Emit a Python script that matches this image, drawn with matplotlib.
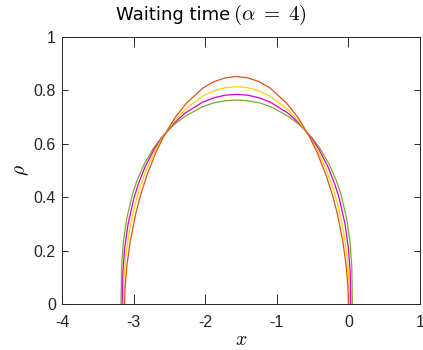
import numpy as np
import matplotlib
matplotlib.use('Agg')
import matplotlib.pyplot as plt

plt.rcParams['mathtext.fontset'] = 'cm'
plt.rcParams['font.family'] = ['DejaVu Sans']

# densities, one (x, rho) set per curve
x_red = [-3.126, -3.118, -3.095, -3.048, -2.970, -2.907, -2.813, -2.688, -2.579, -2.423,
         -2.266, -2.032, -1.876, -1.719, -1.563, -1.407, -1.250, -1.094, -0.860, -0.703,
         -0.547, -0.438, -0.313, -0.219, -0.156, -0.078, -0.031, -0.008, 0.000]
rho_red = [0.0, 0.066, 0.142, 0.234, 0.339, 0.404, 0.483, 0.568, 0.628, 0.698,
           0.751, 0.809, 0.833, 0.847, 0.852, 0.847, 0.833, 0.809, 0.751, 0.698,
           0.628, 0.568, 0.483, 0.404, 0.339, 0.234, 0.142, 0.066, 0.0]

x_yel = [-3.144, -3.136, -3.112, -3.065, -2.986, -2.923, -2.828, -2.702, -2.591, -2.433,
         -2.276, -2.039, -1.881, -1.723, -1.565, -1.407, -1.249, -1.091, -0.854, -0.697,
         -0.539, -0.428, -0.302, -0.207, -0.144, -0.065, -0.018, 0.006, 0.014]
rho_yel = [0.0, 0.090, 0.173, 0.267, 0.367, 0.427, 0.499, 0.574, 0.626, 0.685,
           0.730, 0.778, 0.798, 0.810, 0.814, 0.810, 0.798, 0.778, 0.730, 0.685,
           0.626, 0.574, 0.499, 0.427, 0.367, 0.267, 0.173, 0.090, 0.0]

x_mag = [-3.158, -3.150, -3.126, -3.078, -2.998, -2.935, -2.839, -2.712, -2.600, -2.441,
         -2.280, -2.042, -1.882, -1.723, -1.563, -1.403, -1.243, -1.084, -0.844, -0.685,
         -0.526, -0.414, -0.286, -0.191, -0.127, -0.047, 0.001, 0.025, 0.033]
rho_mag = [0.0, 0.116, 0.206, 0.299, 0.394, 0.449, 0.514, 0.580, 0.625, 0.676,
           0.715, 0.755, 0.772, 0.782, 0.785, 0.782, 0.772, 0.755, 0.715, 0.676,
           0.625, 0.580, 0.514, 0.449, 0.394, 0.299, 0.206, 0.116, 0.0]

x_grn = [-3.176, -3.168, -3.144, -3.095, -3.014, -2.950, -2.853, -2.724, -2.611, -2.450,
         -2.288, -2.046, -1.884, -1.723, -1.561, -1.399, -1.237, -1.076, -0.834, -0.672,
         -0.511, -0.398, -0.268, -0.172, -0.107, -0.026, 0.023, 0.047, 0.055]
rho_grn = [0.0, 0.138, 0.231, 0.322, 0.413, 0.464, 0.523, 0.583, 0.623, 0.668,
           0.702, 0.738, 0.753, 0.761, 0.764, 0.761, 0.753, 0.738, 0.702, 0.668,
           0.623, 0.583, 0.523, 0.464, 0.413, 0.322, 0.231, 0.138, 0.0]

xticks = [-4, -3, -2, -1, 0, 1]
yticks = [0, 0.2, 0.4, 0.6, 0.8, 1]
xtick_labels = ['-4', '-3', '-2', '-1', '0', '1']
ytick_labels = ['0', '0.2', '0.4', '0.6', '0.8', '1']

fig = plt.figure(figsize=(4.23, 3.5), dpi=100)
ax = fig.add_axes([0.1466, 0.1314, 0.8464, 0.7629])

ax.plot(x_grn, rho_grn, color='#77AC30', lw=0.9)
ax.plot(x_mag, rho_mag, color='#D000D0', lw=0.9)
ax.plot(x_yel, rho_yel, color='#FFD400', lw=0.9)
ax.plot(x_red, rho_red, color='#D95319', lw=0.9)

ax.set_xlim(-4, 1)
ax.set_ylim(0, 1)
ax.set_xticks(xticks)
ax.set_xticklabels(xtick_labels, family='Liberation Sans')
ax.set_yticks(yticks)
ax.set_yticklabels(ytick_labels, family='Liberation Sans')

dark = '#262626'
for s in ax.spines.values():
    s.set_color(dark)
    s.set_linewidth(0.7)
ax.tick_params(axis='x', direction='in', top=True, length=7, width=0.7,
               color=dark, labelcolor=dark, labelsize=11.5, pad=8)
ax.tick_params(axis='y', direction='in', right=True, length=4.5, width=0.7,
               color=dark, labelcolor=dark, labelsize=11.5, pad=4.5)

# title in two parts: sans text plus a larger LaTeX-style math part
fig.text(0.544, 0.942, 'Waiting time', fontsize=13, ha='right', va='baseline')
fig.text(0.552, 0.942, r'$(\alpha\;=\;4)$', fontsize=15, ha='left', va='baseline')

ax.set_xlabel(r'$x$', fontsize=14, labelpad=0)
ax.set_ylabel(r'$\rho$', fontsize=14, labelpad=2)

fig.savefig('out.png', dpi=100)
